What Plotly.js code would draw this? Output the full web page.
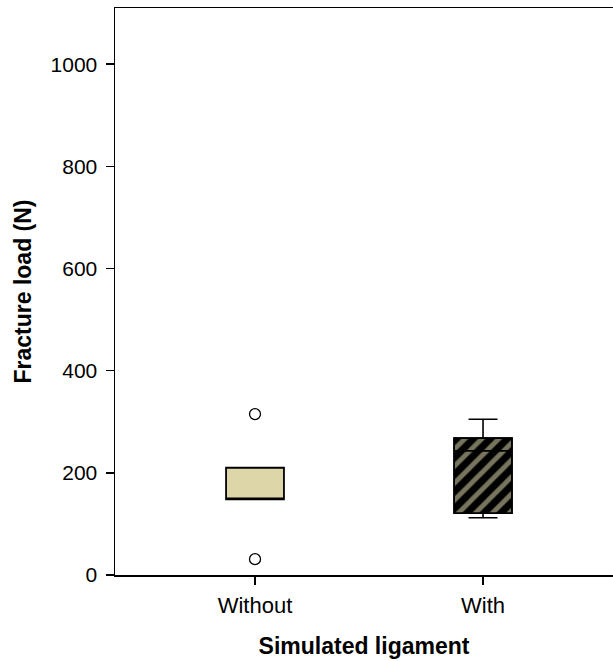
<!DOCTYPE html>
<html>
<head>
<meta charset="utf-8">
<script src="https://cdn.plot.ly/plotly-3.0.1.min.js"></script>
<style>html,body{margin:0;padding:0;background:#fff;}#chart{width:613px;height:661px;}</style>
</head>
<body>
<div id="chart"></div>
<script>
var categories = ['Without', 'With'];
var lowerWhisker = [148, 112];
var q1Values = [148, 121];
var medianValues = [149, 243];
var q3Values = [210, 268];
var upperWhisker = [210, 305];
var outlierCategories = ['Without', 'Without'];
var outlierValues = [315, 31];
var yTickValues = [0, 200, 400, 600, 800, 1000];

var boxWidth = 0.254;
var tan = '#dcd6a9';

var traces = [
  {
    type: 'bar',
    x: [categories[1]],
    base: [q1Values[1]],
    y: [q3Values[1] - q1Values[1]],
    width: boxWidth,
    marker: {
      color: '#000',
      pattern: {shape: '/', fgcolor: '#f0eabd', bgcolor: '#000', size: 12, solidity: 0.4, fillmode: 'overlay'},
      line: {color: '#000', width: 1.5}
    },
    hoverinfo: 'skip',
    showlegend: false
  },
  {
    type: 'box',
    x: [categories[0]],
    q1: [q1Values[0]],
    median: [medianValues[0]],
    q3: [q3Values[0]],
    lowerfence: [lowerWhisker[0]],
    upperfence: [upperWhisker[0]],
    width: boxWidth,
    whiskerwidth: 0.5,
    fillcolor: tan,
    line: {color: '#000', width: 1.8},
    showlegend: false
  },
  {
    type: 'box',
    x: [categories[1]],
    q1: [q1Values[1]],
    median: [medianValues[1]],
    q3: [q3Values[1]],
    lowerfence: [lowerWhisker[1]],
    upperfence: [upperWhisker[1]],
    width: boxWidth,
    whiskerwidth: 0.5,
    fillcolor: 'rgba(0,0,0,0)',
    line: {color: '#000', width: 1.6},
    showlegend: false
  },
  {
    type: 'scatter',
    mode: 'markers',
    x: outlierCategories,
    y: outlierValues,
    marker: {symbol: 'circle-open', size: 11, color: '#000', line: {width: 1.3, color: '#000'}},
    showlegend: false
  }
];

var layout = {
  width: 613,
  height: 661,
  margin: {l: 115, r: 0, t: 8, b: 86},
  paper_bgcolor: '#fff',
  plot_bgcolor: '#fff',
  barmode: 'overlay',
  boxmode: 'overlay',
  font: {family: 'Liberation Sans, Arial, sans-serif', color: '#000'},
  xaxis: {
    type: 'category',
    categoryorder: 'array',
    categoryarray: categories,
    range: [-0.614, 1.57],
    showline: true,
    linecolor: '#000',
    linewidth: 1.5,
    mirror: true,
    ticks: 'outside',
    ticklen: 8,
    tickwidth: 1.5,
    tickcolor: '#000',
    ticklabelstandoff: 2,
    showgrid: false,
    zeroline: false,
    tickfont: {size: 22, color: '#000'},
    title: {text: 'Simulated ligament', font: {size: 23, color: '#000', weight: 'bold'}, standoff: 21}
  },
  yaxis: {
    range: [0, 1110],
    tickvals: yTickValues,
    showline: true,
    linecolor: '#000',
    linewidth: 1.5,
    ticks: 'outside',
    ticklen: 8,
    tickwidth: 1.5,
    tickcolor: '#000',
    ticklabelstandoff: 4,
    showgrid: false,
    zeroline: false,
    tickfont: {size: 21, color: '#000'},
    title: {text: 'Fracture load (N)', font: {size: 23, color: '#000', weight: 'bold'}, standoff: 12}
  }
};

Plotly.newPlot('chart', traces, layout, {displayModeBar: false, staticPlot: true});
</script>
</body>
</html>
